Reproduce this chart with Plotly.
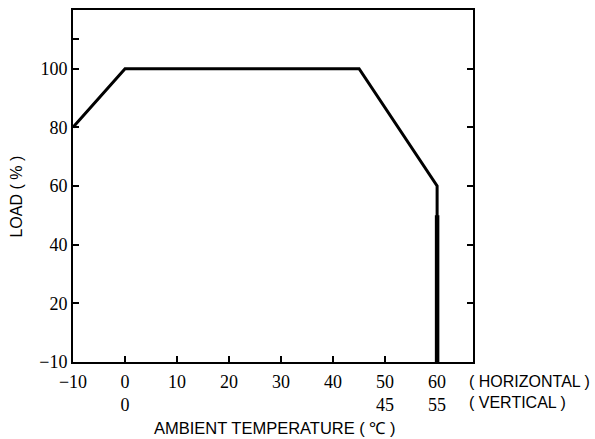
import plotly.graph_objects as go

# Derating curve data
temps = [-10, 0, 45, 60, 60]
loads = [80, 100, 100, 60, 0]
heavy_x = [60, 60]
heavy_y = [50, 0]

x_tickvals = [-10, 0, 10, 20, 30, 40, 50, 60]
x_ticktext_horizontal = ["−10", "0", "10", "20", "30", "40", "50", "60"]
x_ticktext_vertical = ["", "0", "", "", "", "", "45", "55"]

y_tickvals = [0, 20, 40, 60, 80, 100, 110]
y_ticktext = ["−10", "20", "40", "60", "80", "100", ""]
y2_tickvals = [20, 40, 60, 80, 100]

x_ticktext = [h + "<br>" + (v if v else " ")
              for h, v in zip(x_ticktext_horizontal, x_ticktext_vertical)]

serif = "Liberation Serif, Times New Roman, serif"
sans = "Liberation Sans, Arial, sans-serif"

fig = go.Figure()
fig.add_trace(go.Scatter(x=temps, y=loads, mode="lines",
                         line=dict(color="black", width=3),
                         showlegend=False, hoverinfo="skip"))
fig.add_trace(go.Scatter(x=heavy_x, y=heavy_y, mode="lines",
                         line=dict(color="black", width=4.5),
                         showlegend=False, hoverinfo="skip"))
# invisible trace to activate right-side tick axis
fig.add_trace(go.Scatter(x=heavy_x, y=heavy_y, mode="lines", yaxis="y2",
                         line=dict(color="rgba(0,0,0,0)", width=0),
                         showlegend=False, hoverinfo="skip"))

fig.update_layout(
    width=595, height=439,
    margin=dict(l=73, r=122, t=10, b=77, autoexpand=False),
    plot_bgcolor="white", paper_bgcolor="white",
    xaxis=dict(range=[-10, 66.9], showgrid=False, zeroline=False,
               showline=True, linecolor="black", linewidth=2, mirror=True,
               ticks="inside", ticklen=6, tickwidth=2, tickcolor="black",
               tickvals=x_tickvals, ticktext=x_ticktext, automargin=False,
               ticklabelstandoff=2,
               tickfont=dict(family=serif, size=18, color="black")),
    yaxis=dict(range=[0, 120], showgrid=False, zeroline=False,
               showline=True, linecolor="black", linewidth=2, mirror=True,
               ticks="inside", ticklen=6, tickwidth=2, tickcolor="black",
               tickvals=y_tickvals, ticktext=y_ticktext, automargin=False,
               ticklabelstandoff=0,
               tickfont=dict(family=serif, size=18, color="black")),
    yaxis2=dict(range=[0, 120], overlaying="y", side="right", showgrid=False,
                zeroline=False, showline=False, ticks="inside", ticklen=6,
                tickwidth=2, tickcolor="black", tickvals=y2_tickvals,
                showticklabels=False, automargin=False),
    annotations=[
        dict(text="LOAD ( % )", xref="paper", yref="paper", x=-0.14, y=0.47,
             xanchor="center", yanchor="middle", showarrow=False, textangle=-90,
             font=dict(family=sans, size=16, color="black")),
        dict(text="( HORIZONTAL )", xref="paper", yref="paper", x=0.985, y=-0.054,
             xanchor="left", yanchor="middle", showarrow=False,
             font=dict(family=sans, size=16, color="black")),
        dict(text="( VERTICAL )", xref="paper", yref="paper", x=0.985, y=-0.116,
             xanchor="left", yanchor="middle", showarrow=False,
             font=dict(family=sans, size=16, color="black")),
        dict(text="AMBIENT TEMPERATURE ( ℃ )", xref="paper", yref="paper", x=0.505,
             y=-0.187, xanchor="center", yanchor="middle", showarrow=False,
             font=dict(family=sans, size=16.5, color="black")),
    ],
)

fig.write_html("out.html", config={"displayModeBar": False},
               post_script="document.body.style.margin='0';")
